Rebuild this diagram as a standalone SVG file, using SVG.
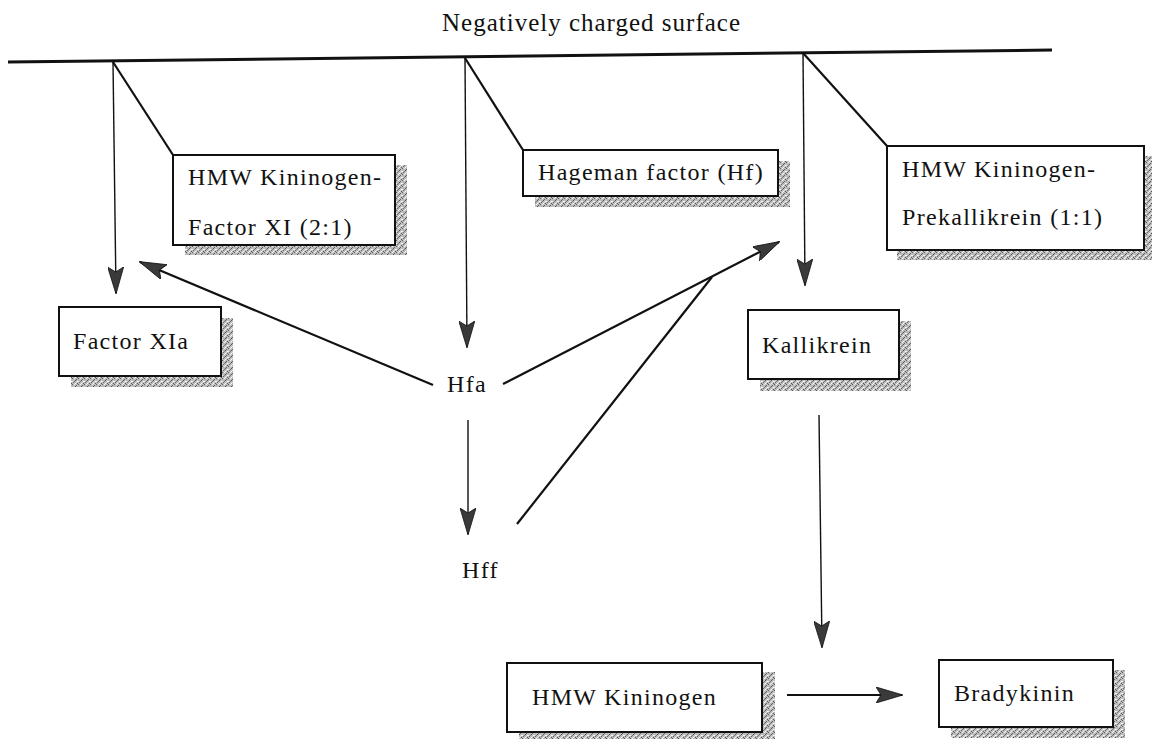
<svg xmlns="http://www.w3.org/2000/svg" width="1152" height="739" viewBox="0 0 1152 739">
  <style>
    .lbl { font-family: "Liberation Serif", "Times New Roman", serif; font-size: 24px; letter-spacing: 1.3px; fill: #111; }
    .title { font-family: "Liberation Serif", "Times New Roman", serif; font-size: 25px; letter-spacing: 1px; fill: #111; }
    .box { fill: #fff; stroke: #111; stroke-width: 2; }
    .shadow { fill: url(#stipple); }
    .surface { stroke: #111; stroke-width: 3; fill: none; }
    .tether { stroke: #111; stroke-width: 2.2; fill: none; }
    .thin { stroke: #111; stroke-width: 1.4; fill: none; }
    .flow { stroke: #111; stroke-width: 2.2; fill: none; }
  </style>
  <defs>
    <!-- grainy grey fill used for drop shadows -->
    <pattern id="stipple" width="6" height="6" patternUnits="userSpaceOnUse">
      <rect width="6" height="6" fill="#bcbcbc"/>
      <rect x="0" y="0" width="1" height="1" fill="#5e5e5e"/>
      <rect x="4" y="1" width="1" height="1" fill="#666"/>
      <rect x="3" y="2" width="1" height="1" fill="#555"/>
      <rect x="1" y="4" width="1" height="1" fill="#6a6a6a"/>
      <rect x="5" y="5" width="1" height="1" fill="#5a5a5a"/>
      <rect x="2" y="3" width="1" height="1" fill="#7a7a7a"/>
      <rect x="2" y="0" width="1" height="1" fill="#f2f2f2"/>
      <rect x="5" y="3" width="1" height="1" fill="#ffffff"/>
      <rect x="0" y="3" width="1" height="1" fill="#eeeeee"/>
      <rect x="3" y="5" width="1" height="1" fill="#ffffff"/>
      <rect x="4" y="4" width="1" height="1" fill="#e0e0e0"/>
    </pattern>
    <marker id="head" markerUnits="userSpaceOnUse" viewBox="0 0 27 16" refX="26" refY="8" markerWidth="27" markerHeight="16" orient="auto">
      <path d="M0,0 L27,8 L0,16 L5,8 Z" fill="#3a3a3a" stroke="#111" stroke-width="0.8"/>
    </marker>
  </defs>

  <!-- surface label and line -->
  <text class="title" x="442" y="31">Negatively charged surface</text>
  <line class="surface" x1="8" y1="62" x2="1052" y2="50"/>

  <!-- connectors -->
  <g id="connectors">
    <line class="tether" x1="113" y1="62" x2="173" y2="155"/>
    <line class="tether" x1="465" y1="58" x2="523" y2="150"/>
    <line class="tether" x1="803" y1="53" x2="887" y2="146"/>
    <line class="thin" x1="113" y1="62" x2="116" y2="293" marker-end="url(#head)"/>
    <line class="thin" x1="465" y1="58" x2="467" y2="347" marker-end="url(#head)"/>
    <line class="thin" x1="803" y1="53" x2="805" y2="285" marker-end="url(#head)"/>
    <line class="flow" x1="433" y1="385" x2="140" y2="262" marker-end="url(#head)"/>
    <line class="flow" x1="503" y1="384" x2="779" y2="242" marker-end="url(#head)"/>
    <line class="thin" x1="468" y1="420" x2="468" y2="534" marker-end="url(#head)"/>
    <line class="flow" x1="517" y1="524" x2="712" y2="277"/>
    <line class="thin" x1="819" y1="415" x2="822" y2="647" marker-end="url(#head)"/>
    <line class="flow" x1="787" y1="695" x2="902" y2="695" marker-end="url(#head)"/>
  </g>

  <!-- nodes -->
  <g id="hmwk-fxi">
    <rect class="shadow" x="185" y="165" width="222" height="90"/>
    <rect class="box" x="173" y="155" width="222" height="90"/>
    <text class="lbl" x="188" y="185">HMW Kininogen-</text>
    <text class="lbl" x="188" y="235">Factor XI (2:1)</text>
  </g>

  <g id="hageman">
    <rect class="shadow" x="535" y="161" width="255" height="46"/>
    <rect class="box" x="523" y="150" width="255" height="46"/>
    <text class="lbl" x="538" y="180">Hageman factor (Hf)</text>
  </g>

  <g id="hmwk-pk">
    <rect class="shadow" x="897" y="156" width="257" height="104"/>
    <rect class="box" x="887" y="146" width="257" height="104"/>
    <text class="lbl" x="902" y="177">HMW Kininogen-</text>
    <text class="lbl" x="902" y="225">Prekallikrein (1:1)</text>
  </g>

  <g id="factor-xia">
    <rect class="shadow" x="71" y="318" width="162" height="69"/>
    <rect class="box" x="59" y="307" width="162" height="69"/>
    <text class="lbl" x="73" y="349">Factor XIa</text>
  </g>

  <g id="hfa">
    <text class="lbl" x="447" y="392">Hfa</text>
  </g>

  <g id="hff">
    <text class="lbl" x="462" y="578">Hff</text>
  </g>

  <g id="kallikrein">
    <rect class="shadow" x="760" y="321" width="151" height="70"/>
    <rect class="box" x="748" y="310" width="151" height="69"/>
    <text class="lbl" x="762" y="353">Kallikrein</text>
  </g>

  <g id="hmwk">
    <rect class="shadow" x="519" y="672" width="256" height="68"/>
    <rect class="box" x="507" y="663" width="255" height="69"/>
    <text class="lbl" x="532" y="705">HMW Kininogen</text>
  </g>

  <g id="bradykinin">
    <rect class="shadow" x="951" y="670" width="174" height="68"/>
    <rect class="box" x="939" y="660" width="174" height="67"/>
    <text class="lbl" x="954" y="701">Bradykinin</text>
  </g>
</svg>
